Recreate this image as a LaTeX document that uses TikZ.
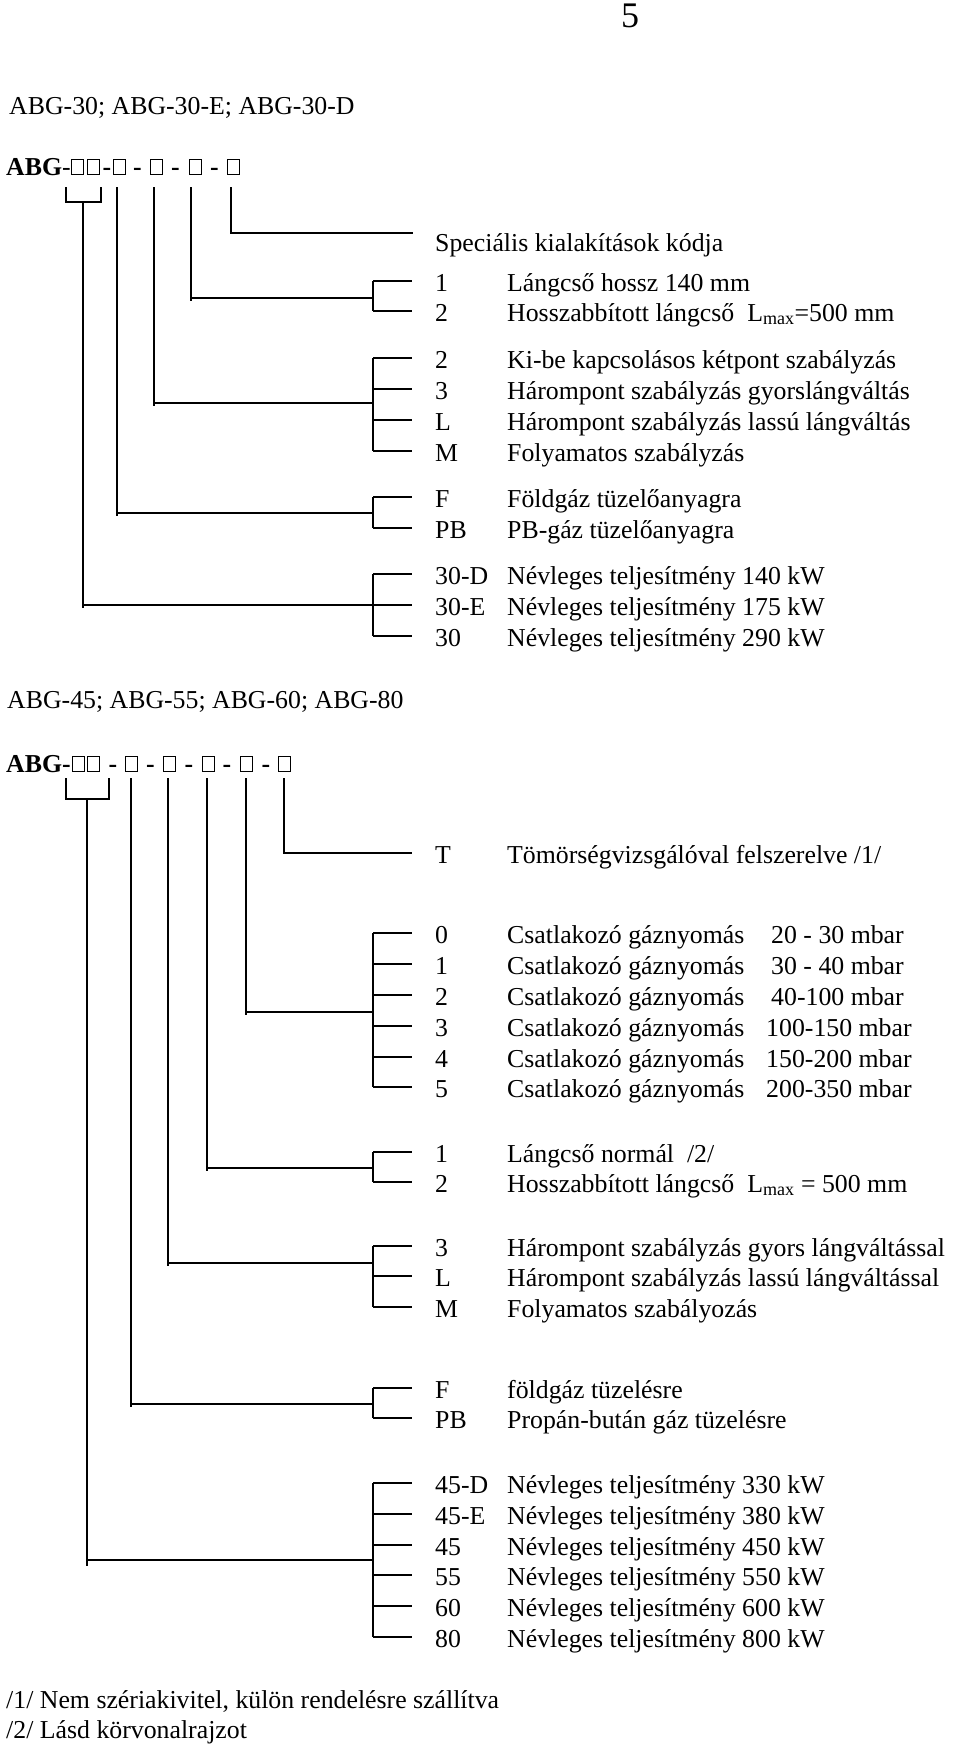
\documentclass[tikz,border=0pt]{standalone}
\usepackage{fontspec}
\setmainfont{Liberation Serif}
\begin{document}
\begin{tikzpicture}[x=1pt,y=-1pt,
  ln/.style={line width=1.5pt},
  txt/.style={anchor=base west, inner sep=0pt, font=\fontsize{25.8}{30}\selectfont},
  bx/.style={draw, line width=0.7pt, minimum width=12pt, minimum height=15pt, inner sep=0pt, anchor=south},
  dsh/.style={anchor=base, inner sep=0pt, font=\fontsize{25.8}{30}\selectfont\bfseries}]
\useasboundingbox (0,0) rectangle (960,1748);

% page number and headings
\node[anchor=base, inner sep=0pt, font=\fontsize{36}{40}\selectfont] (pg) at (630,27) {5};
\node[txt] (h1) at (9,114) {ABG-30; ABG-30-E; ABG-30-D};
\node[txt] (h2) at (7,708) {ABG-45; ABG-55; ABG-60; ABG-80};

% ---------------- code line 1 ----------------
\node[txt] (abg1) at (6,175) {\textbf{ABG}-};
\node[bx] (a1) at (77,175) {};
\node[bx] (a2) at (93.5,175) {};
\node[dsh] (ad1) at (107,175) {-};
\node[bx] (a3) at (119,175) {};
\node[dsh] (ad2) at (137.5,175) {-};
\node[bx] (a4) at (156.5,175) {};
\node[dsh] (ad3) at (175.5,175) {-};
\node[bx] (a5) at (195,175) {};
\node[dsh] (ad4) at (214.5,175) {-};
\node[bx] (a6) at (233.5,175) {};

% code texts, section 1
\node[txt] (sp) at (435,251) {Speciális kialakítások kódja};
\foreach \y/\c/\d [count=\i] in {
  281/1/{Lángcső hossz 140 mm},
  311/2/{Hosszabbított lángcső\ \ L\textsubscript{max}=500 mm},
  358/2/{Ki-be kapcsolásos kétpont szabályzás},
  389/3/{Hárompont szabályzás gyorslángváltás},
  420/L/{Hárompont szabályzás lassú lángváltás},
  451/M/{Folyamatos szabályzás},
  497/F/{Földgáz tüzelőanyagra},
  528/PB/{PB-gáz tüzelőanyagra},
  574/30-D/{Névleges teljesítmény 140 kW},
  605/30-E/{Névleges teljesítmény 175 kW},
  636/30/{Névleges teljesítmény 290 kW}}{
  \node[txt] (ka\i) at (435,\y+10) {\c};
  \node[txt] (da\i) at (507,\y+10) {\d};
  \draw[ln] (373,\y) -- (412,\y);
}

% connectors, section 1
\draw[ln] (66,187) -- (66,202) -- (101,202) -- (101,187);
\coordinate (ja1) at (373,605);
\coordinate (ja2) at (373,513);
\coordinate (ja3) at (373,403);
\coordinate (ja4) at (373,298);
\draw[ln] (83,202) -- (83,608);  \draw[ln] (83,605) -- (ja1);
\draw[ln] (117,187) -- (117,516); \draw[ln] (117,513) -- (ja2);
\draw[ln] (154,187) -- (154,406); \draw[ln] (154,403) -- (ja3);
\draw[ln] (191,187) -- (191,301); \draw[ln] (191,298) -- (ja4);
\draw[ln] (231,187) -- (231,233) -- (413,233);
\draw[ln] (373,281) -- (373,311);
\draw[ln] (373,358) -- (373,451);
\draw[ln] (373,497) -- (373,528);
\draw[ln] (373,574) -- (373,636);

% ---------------- code line 2 ----------------
\node[txt] (abg2) at (6,772) {\textbf{ABG-}};
\node[bx] (b1) at (78,772) {};
\node[bx] (b2) at (93.5,772) {};
\node[dsh] (bd1) at (113,772) {-};
\node[bx] (b3) at (131.5,772) {};
\node[dsh] (bd2) at (150.5,772) {-};
\node[bx] (b4) at (169,772) {};
\node[dsh] (bd3) at (189,772) {-};
\node[bx] (b5) at (208,772) {};
\node[dsh] (bd4) at (227,772) {-};
\node[bx] (b6) at (246,772) {};
\node[dsh] (bd5) at (266,772) {-};
\node[bx] (b7) at (284.5,772) {};

\node[txt] (kT) at (435,863) {T};
\node[txt] (dT) at (507,863) {Tömörségvizsgálóval felszerelve /1/};

\foreach \y/\c/\p [count=\i] in {
  933/0/{\hspace{5pt}20 - 30 mbar},
  964/1/{\hspace{5pt}30 - 40 mbar},
  995/2/{\hspace{5pt}40-100 mbar},
  1026/3/{100-150 mbar},
  1057/4/{150-200 mbar},
  1087/5/{200-350 mbar}}{
  \node[txt] (kb\i) at (435,\y+10) {\c};
  \node[txt] (db\i) at (507,\y+10) {Csatlakozó gáznyomás};
  \node[txt] (pb\i) at (766,\y+10) {\p};
  \draw[ln] (373,\y) -- (412,\y);
}

\foreach \y/\c/\d [count=\i] in {
  1152/1/{Lángcső normál\ \ /2/},
  1182/2/{Hosszabbított lángcső\ \ L\textsubscript{max} = 500 mm},
  1246/3/{Hárompont szabályzás gyors lángváltással},
  1276/L/{Hárompont szabályzás lassú lángváltással},
  1307/M/{Folyamatos szabályozás},
  1388/F/{földgáz tüzelésre},
  1418/PB/{Propán-bután gáz tüzelésre},
  1483/45-D/{Névleges teljesítmény 330 kW},
  1514/45-E/{Névleges teljesítmény 380 kW},
  1545/45/{Névleges teljesítmény 450 kW},
  1575/55/{Névleges teljesítmény 550 kW},
  1606/60/{Névleges teljesítmény 600 kW},
  1637/80/{Névleges teljesítmény 800 kW}}{
  \node[txt] (kc\i) at (435,\y+10) {\c};
  \node[txt] (dc\i) at (507,\y+10) {\d};
  \draw[ln] (373,\y) -- (412,\y);
}

% connectors, section 2
\draw[ln] (66,778) -- (66,799) -- (109,799) -- (109,778);
\coordinate (jb1) at (373,1560);
\coordinate (jb2) at (373,1404);
\coordinate (jb3) at (373,1263);
\coordinate (jb4) at (373,1168);
\coordinate (jb5) at (373,1012);
\draw[ln] (87,799) -- (87,1566);   \draw[ln] (87,1560) -- (jb1);
\draw[ln] (131,778) -- (131,1407); \draw[ln] (131,1404) -- (jb2);
\draw[ln] (168,778) -- (168,1266); \draw[ln] (168,1263) -- (jb3);
\draw[ln] (207,778) -- (207,1171); \draw[ln] (207,1168) -- (jb4);
\draw[ln] (246,778) -- (246,1015); \draw[ln] (246,1012) -- (jb5);
\draw[ln] (284,778) -- (284,853) -- (412,853);
\draw[ln] (373,933) -- (373,1087);
\draw[ln] (373,1152) -- (373,1182);
\draw[ln] (373,1246) -- (373,1307);
\draw[ln] (373,1388) -- (373,1418);
\draw[ln] (373,1483) -- (373,1637);

% footnotes
\node[txt] (f1) at (6,1708) {/1/ Nem szériakivitel, külön rendelésre szállítva};
\node[txt] (f2) at (6,1738) {/2/ Lásd körvonalrajzot};
\end{tikzpicture}
\end{document}
